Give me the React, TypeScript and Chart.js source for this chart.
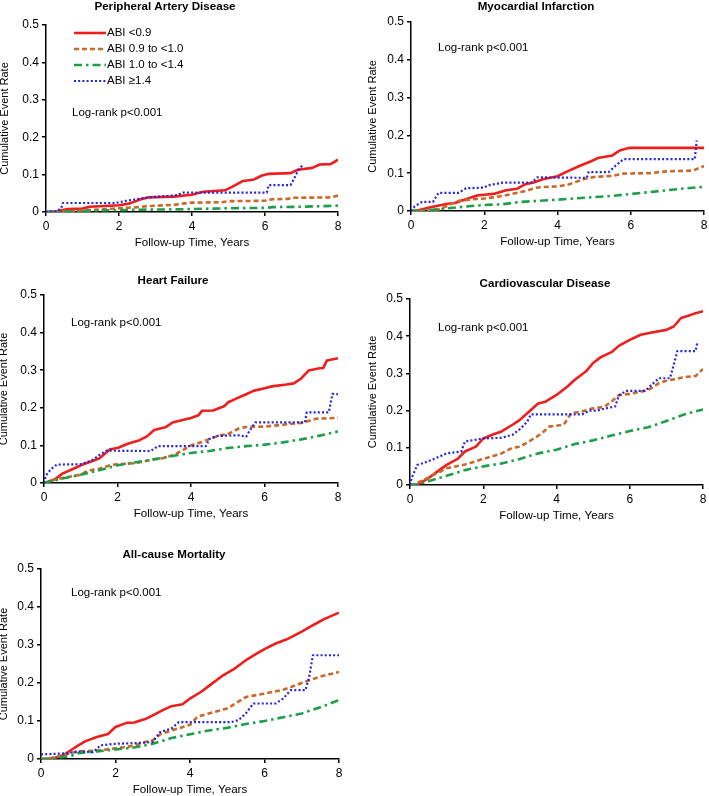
import React, { useEffect, useRef } from "react";
import { Chart, registerables } from "chart.js";

Chart.register(...registerables);

const FONT = '"Liberation Sans", Arial, Helvetica, sans-serif';

// ---- labels / ticks ----
const SERIES_LABELS = ["ABI <0.9", "ABI 0.9 to <1.0", "ABI 1.0 to <1.4", "ABI \u22651.4"];
const X_TICK_RANGE = [0, 8, 2]; // min, max, step (years)
const Y_TICK_RANGE = [0, 0.5, 0.1]; // min, max, step
const X_TITLE = "Follow-up Time, Years";
const Y_TITLE = "Cumulative Event Rate";
const NOTE = "Log-rank p<0.001";

// ---- Peripheral Artery Disease ----
const PAD_LT09 = [[0,0],[0.3,0.002],[0.5,0.006],[0.6,0.008],[1.0,0.009],[1.2,0.014],[2.0,0.018],[2.3,0.023],[2.6,0.034],[2.8,0.039],[3.5,0.041],[4.0,0.046],[4.3,0.054],[4.9,0.058],[5.1,0.067],[5.4,0.083],[5.7,0.087],[5.9,0.097],[6.1,0.102],[6.7,0.104],[6.9,0.113],[7.3,0.118],[7.5,0.127],[7.8,0.128],[8.0,0.140]];
const PAD_09_10 = [[0,0],[0.5,0.001],[1.0,0.004],[1.5,0.007],[2.0,0.010],[2.5,0.013],[2.8,0.016],[3.5,0.019],[3.8,0.023],[4.0,0.025],[4.8,0.026],[5.0,0.029],[6.0,0.030],[6.2,0.034],[6.6,0.035],[6.8,0.038],[7.8,0.039],[8.0,0.044]];
const PAD_10_14 = [[0,0],[0.5,0.001],[1.5,0.004],[2.5,0.006],[3.5,0.007],[4.0,0.008],[5.0,0.010],[6.0,0.011],[6.2,0.013],[7.0,0.014],[8.0,0.017]];
const PAD_GE14 = [[0,0],[0.3,0.002],[0.42,0.010],[0.46,0.024],[1.9,0.024],[2.2,0.030],[2.6,0.036],[2.8,0.039],[3.6,0.045],[3.75,0.052],[6.05,0.052],[6.1,0.072],[6.7,0.072],[6.8,0.090],[6.9,0.110],[7.05,0.128]];

// ---- Myocardial Infarction ----
const MI_LT09 = [[0,0],[0.2,0.002],[0.5,0.009],[0.7,0.013],[1.0,0.019],[1.2,0.021],[1.5,0.031],[1.8,0.041],[2.0,0.043],[2.3,0.046],[2.6,0.055],[2.9,0.059],[3.1,0.070],[3.4,0.077],[3.6,0.084],[4.0,0.092],[4.3,0.106],[4.6,0.119],[4.9,0.131],[5.1,0.140],[5.5,0.147],[5.7,0.160],[5.95,0.167],[8.0,0.167]];
const MI_09_10 = [[0,0],[0.5,0.001],[0.8,0.005],[1.0,0.014],[1.3,0.027],[1.8,0.032],[2.0,0.033],[2.5,0.040],[3.0,0.050],[3.5,0.063],[4.0,0.065],[4.3,0.070],[4.7,0.084],[5.0,0.090],[5.5,0.093],[5.8,0.099],[6.5,0.100],[7.0,0.105],[7.7,0.107],[8.0,0.119]];
const MI_10_14 = [[0,0],[0.3,0.001],[1.0,0.007],[1.5,0.012],[2.0,0.016],[2.5,0.018],[3.0,0.024],[4.0,0.030],[5.0,0.037],[5.5,0.040],[6.0,0.045],[7.0,0.055],[7.5,0.060],[8.0,0.064]];
const MI_GE14 = [[0,0],[0.1,0.012],[0.3,0.024],[0.6,0.024],[0.75,0.048],[1.3,0.048],[1.5,0.060],[2.0,0.062],[2.1,0.068],[2.5,0.075],[3.3,0.075],[3.45,0.089],[4.5,0.088],[4.8,0.088],[4.85,0.103],[5.4,0.103],[5.6,0.121],[5.8,0.137],[7.75,0.137],[7.8,0.187]];

// ---- Heart Failure ----
const HF_LT09 = [[0,0],[0.3,0.010],[0.5,0.025],[0.8,0.038],[1.0,0.047],[1.3,0.058],[1.5,0.065],[1.8,0.090],[2.0,0.093],[2.3,0.105],[2.6,0.114],[2.8,0.124],[3.0,0.141],[3.3,0.148],[3.5,0.161],[3.8,0.168],[4.0,0.173],[4.2,0.180],[4.3,0.192],[4.6,0.193],[4.9,0.204],[5.0,0.214],[5.2,0.223],[5.5,0.236],[5.7,0.245],[6.0,0.252],[6.2,0.257],[6.6,0.262],[6.8,0.265],[7.0,0.278],[7.2,0.299],[7.5,0.305],[7.6,0.306],[7.7,0.326],[8.0,0.332]];
const HF_09_10 = [[0,0],[0.1,0.001],[0.3,0.010],[0.5,0.013],[1.0,0.022],[1.2,0.033],[1.5,0.038],[1.8,0.047],[2.0,0.050],[2.5,0.053],[3.0,0.063],[3.3,0.067],[3.6,0.078],[4.0,0.100],[4.3,0.109],[4.5,0.117],[4.8,0.127],[5.0,0.130],[5.3,0.145],[5.5,0.149],[6.0,0.150],[6.5,0.155],[7.0,0.160],[7.2,0.165],[7.4,0.171],[8.0,0.173]];
const HF_10_14 = [[0,0],[0.5,0.012],[1.0,0.022],[1.5,0.034],[2.0,0.047],[2.5,0.055],[3.0,0.063],[3.5,0.072],[4.0,0.080],[4.5,0.085],[5.0,0.093],[5.5,0.098],[6.0,0.102],[6.5,0.108],[7.0,0.116],[7.5,0.126],[8.0,0.137]];
const HF_GE14 = [[0,0],[0.05,0.020],[0.2,0.038],[0.35,0.049],[1.0,0.050],[1.3,0.060],[1.5,0.074],[1.7,0.086],[2.9,0.085],[3.1,0.098],[4.4,0.098],[4.5,0.117],[4.7,0.125],[5.3,0.127],[5.5,0.123],[5.6,0.140],[5.75,0.161],[7.1,0.161],[7.15,0.188],[7.75,0.188],[7.85,0.237],[8.0,0.236]];

// ---- Cardiovascular Disease ----
const CVD_LT09 = [[0,0],[0.2,0.001],[0.5,0.018],[0.8,0.040],[1.0,0.054],[1.3,0.070],[1.5,0.090],[1.8,0.103],[2.0,0.125],[2.3,0.137],[2.5,0.144],[2.8,0.162],[3.0,0.175],[3.2,0.193],[3.5,0.219],[3.7,0.224],[4.0,0.242],[4.3,0.265],[4.5,0.283],[4.8,0.305],[5.0,0.328],[5.2,0.343],[5.5,0.357],[5.7,0.374],[6.0,0.390],[6.3,0.404],[6.6,0.410],[7.0,0.417],[7.2,0.426],[7.4,0.449],[7.6,0.455],[7.8,0.462],[8.0,0.467]];
const CVD_09_10 = [[0,0],[0.1,0.001],[0.5,0.020],[0.8,0.035],[1.0,0.045],[1.5,0.055],[2.0,0.070],[2.5,0.085],[2.8,0.100],[3.0,0.103],[3.3,0.120],[3.6,0.139],[3.8,0.157],[4.2,0.162],[4.4,0.193],[4.7,0.198],[5.0,0.206],[5.3,0.210],[5.5,0.224],[5.7,0.242],[6.0,0.245],[6.5,0.255],[6.8,0.274],[7.0,0.280],[7.5,0.290],[7.8,0.293],[8.0,0.312]];
const CVD_10_14 = [[0,0],[0.2,0.001],[0.5,0.010],[1.0,0.025],[1.5,0.040],[2.0,0.050],[2.5,0.058],[3.0,0.070],[3.5,0.085],[4.0,0.095],[4.5,0.110],[5.0,0.120],[5.5,0.133],[6.0,0.145],[6.5,0.155],[7.0,0.172],[7.5,0.190],[8.0,0.203]];
const CVD_GE14 = [[0,0],[0.05,0.020],[0.2,0.054],[0.4,0.060],[0.8,0.076],[1.0,0.085],[1.4,0.090],[1.5,0.117],[2.0,0.125],[2.5,0.127],[2.8,0.135],[3.0,0.150],[3.2,0.170],[3.3,0.190],[4.7,0.190],[4.9,0.200],[5.1,0.200],[5.3,0.205],[5.6,0.211],[5.7,0.240],[5.9,0.253],[6.4,0.253],[6.5,0.260],[6.6,0.270],[6.8,0.287],[7.1,0.287],[7.2,0.323],[7.3,0.360],[7.8,0.360],[7.85,0.386]];

// ---- All-cause Mortality ----
const ACM_LT09 = [[0,0],[0.3,0.001],[0.6,0.010],[0.8,0.023],[1.0,0.036],[1.2,0.047],[1.5,0.058],[1.8,0.066],[2.0,0.084],[2.3,0.095],[2.5,0.096],[2.8,0.105],[3.0,0.115],[3.3,0.130],[3.5,0.139],[3.8,0.144],[4.0,0.159],[4.3,0.177],[4.6,0.199],[4.9,0.221],[5.2,0.238],[5.5,0.260],[5.8,0.278],[6.0,0.289],[6.3,0.304],[6.6,0.315],[7.0,0.335],[7.3,0.352],[7.6,0.368],[8.0,0.385]];
const ACM_09_10 = [[0,0],[0.2,0.001],[0.5,0.008],[1.0,0.020],[1.5,0.022],[2.0,0.028],[2.5,0.035],[2.8,0.045],[3.0,0.049],[3.2,0.065],[3.5,0.075],[4.0,0.090],[4.2,0.111],[4.5,0.120],[5.0,0.133],[5.5,0.163],[6.0,0.172],[6.5,0.182],[7.0,0.200],[7.5,0.217],[8.0,0.229]];
const ACM_10_14 = [[0,0],[0.3,0.001],[0.8,0.008],[1.0,0.015],[1.5,0.020],[2.0,0.025],[2.5,0.030],[3.0,0.040],[3.5,0.055],[4.0,0.065],[4.5,0.075],[5.0,0.082],[5.5,0.092],[6.0,0.100],[6.5,0.110],[7.0,0.120],[7.5,0.136],[8.0,0.155]];
const ACM_GE14 = [[0,0.012],[0.7,0.015],[1.0,0.020],[1.4,0.018],[1.6,0.036],[2.0,0.040],[2.8,0.043],[3.0,0.045],[3.2,0.071],[3.5,0.080],[3.7,0.097],[5.1,0.097],[5.3,0.102],[5.5,0.120],[5.7,0.146],[6.3,0.146],[6.5,0.159],[6.7,0.181],[7.1,0.181],[7.2,0.216],[7.3,0.273],[8.0,0.273]];

// ---- styles ----
const SERIES_STYLES = [
  { color: "#F01D1D", width: 2.6, dash: [] as number[] },
  { color: "#C9692B", width: 2.6, dash: [5, 3] },
  { color: "#1E9E48", width: 2.6, dash: [8, 4, 2.5, 4] },
  { color: "#2424DC", width: 2.2, dash: [2, 2.2] },
];

// ---- panel layout (page pixel positions of plot areas) ----
const PANELS = [
  { title: "Peripheral Artery Disease", series: [PAD_LT09, PAD_09_10, PAD_10_14, PAD_GE14], area: { l: 46, r: 338, t: 25, b: 212 }, titleDx: -27, titleDy: 18.7, note: [26, 88], yGap: 41, legend: true },
  { title: "Myocardial Infarction", series: [MI_LT09, MI_09_10, MI_10_14, MI_GE14], area: { l: 411, r: 704, t: 22, b: 211 }, titleDx: -21.5, titleDy: 15.7, note: [27, 26], yGap: 38.5, legend: false },
  { title: "Heart Failure", series: [HF_LT09, HF_09_10, HF_10_14, HF_GE14], area: { l: 44, r: 338, t: 295, b: 483 }, titleDx: -18, titleDy: 14.5, note: [27, 28], yGap: 40, legend: false },
  { title: "Cardiovascular Disease", series: [CVD_LT09, CVD_09_10, CVD_10_14, CVD_GE14], area: { l: 410, r: 703, t: 299, b: 485 }, titleDx: -11.5, titleDy: 15, note: [28, 29], yGap: 37.5, legend: false },
  { title: "All-cause Mortality", series: [ACM_LT09, ACM_09_10, ACM_10_14, ACM_GE14], area: { l: 41, r: 339, t: 569, b: 759 }, titleDx: -16, titleDy: 14.5, note: [30, 24], yGap: 37, legend: false },
];

const LEFT_SPACE = 50;
const TOP_SPACE = 30;
const BOTTOM_SPACE = 40;
const RIGHT_SPACE = 8;
const TICK_FONT = 12;
const X_TITLE_FONT = 11.6;
const Y_TITLE_FONT = 11;
const X_TITLE_OFFSET = 31;

function Panel({ cfg }: { cfg: any }) {
  const ref = useRef<HTMLCanvasElement>(null);
  const { l, r, t, b } = cfg.area;
  const cl = l - LEFT_SPACE;
  const ct = t - TOP_SPACE;
  const w = r - cl + RIGHT_SPACE;
  const h = b - ct + BOTTOM_SPACE;

  useEffect(() => {
    if (!ref.current) return;
    const annot = {
      id: "annot",
      afterDraw(chart: any) {
        const { ctx, chartArea: a } = chart;
        ctx.save();
        ctx.fillStyle = "#000";
        ctx.font = `bold 11.6px ${FONT}`;
        ctx.textAlign = "center";
        ctx.textBaseline = "middle";
        ctx.fillText(cfg.title, (a.left + a.right) / 2 + cfg.titleDx, a.top - cfg.titleDy);
        ctx.font = `11.5px ${FONT}`;
        ctx.textAlign = "left";
        ctx.fillText(NOTE, a.left + cfg.note[0], a.top + cfg.note[1]);
        if (cfg.legend) {
          chart.data.datasets.forEach((ds: any, i: number) => {
            const y = a.top + 8 + 16 * i;
            ctx.save();
            ctx.strokeStyle = ds.borderColor;
            ctx.lineWidth = ds.borderWidth;
            ctx.setLineDash(ds.borderDash || []);
            ctx.beginPath();
            ctx.moveTo(a.left + 28, y);
            ctx.lineTo(a.left + 60, y);
            ctx.stroke();
            ctx.restore();
            ctx.fillText(ds.label, a.left + 61, y);
          });
        }
        ctx.restore();
      },
    };

    const xTitlePad = BOTTOM_SPACE - X_TITLE_OFFSET - (X_TITLE_FONT * 1.2) / 2;
    const yTitlePad = LEFT_SPACE - cfg.yGap - (Y_TITLE_FONT * 1.2) / 2;

    const chart = new Chart(ref.current, {
      type: "line",
      data: {
        datasets: cfg.series.map((pts: number[][], i: number) => ({
          label: SERIES_LABELS[i],
          data: pts.map(([x, y]) => ({ x, y })),
          borderColor: SERIES_STYLES[i].color,
          backgroundColor: SERIES_STYLES[i].color,
          borderWidth: SERIES_STYLES[i].width,
          borderDash: SERIES_STYLES[i].dash,
          borderCapStyle: "butt",
          borderJoinStyle: "round",
          pointRadius: 0,
          fill: false,
          tension: 0,
          order: 4 - i,
        })),
      },
      options: {
        responsive: false,
        animation: false,
        devicePixelRatio: 1,
        events: [],
        layout: { padding: { left: 0, top: TOP_SPACE, right: RIGHT_SPACE, bottom: 0 } },
        plugins: {
          legend: { display: false },
          tooltip: { enabled: false },
          title: { display: false },
        },
        scales: {
          x: {
            type: "linear",
            min: X_TICK_RANGE[0],
            max: X_TICK_RANGE[1],
            ticks: {
              stepSize: X_TICK_RANGE[2],
              color: "#000",
              font: { family: FONT, size: TICK_FONT },
              padding: 3,
              maxRotation: 0,
              autoSkip: false,
            },
            grid: { display: true, drawOnChartArea: false, drawTicks: true, tickLength: 4, color: "#000", lineWidth: 1.5 },
            border: { display: true, color: "#000", width: 1.5 },
            title: {
              display: true,
              text: X_TITLE,
              color: "#000",
              font: { family: FONT, size: X_TITLE_FONT },
              padding: { top: 0, bottom: xTitlePad },
            },
            afterFit: (s: any) => {
              s.height = BOTTOM_SPACE;
              s.paddingLeft = 0;
              s.paddingRight = 0;
            },
          },
          y: {
            type: "linear",
            min: Y_TICK_RANGE[0],
            max: Y_TICK_RANGE[1],
            ticks: {
              stepSize: Y_TICK_RANGE[2],
              color: "#000",
              font: { family: FONT, size: TICK_FONT },
              padding: 3,
            },
            grid: { display: true, drawOnChartArea: false, drawTicks: true, tickLength: 4, color: "#000", lineWidth: 1.5 },
            border: { display: true, color: "#000", width: 1.5 },
            title: {
              display: true,
              text: Y_TITLE,
              color: "#000",
              font: { family: FONT, size: Y_TITLE_FONT },
              padding: { top: yTitlePad, bottom: 0 },
            },
            afterFit: (s: any) => {
              s.width = LEFT_SPACE;
              s.paddingTop = 0;
              s.paddingBottom = 0;
            },
          },
        },
      } as any,
      plugins: [annot],
    });
    return () => chart.destroy();
  }, []);

  return (
    <canvas
      ref={ref}
      width={w}
      height={h}
      style={{ position: "absolute", left: cl, top: ct, width: w, height: h, display: "block" }}
    />
  );
}

export default function App() {
  return (
    <div style={{ position: "absolute", left: 0, top: 0, width: 709, height: 796, background: "#fff", overflow: "hidden" }}>
      {PANELS.map((p, i) => (
        <Panel key={i} cfg={p} />
      ))}
    </div>
  );
}
